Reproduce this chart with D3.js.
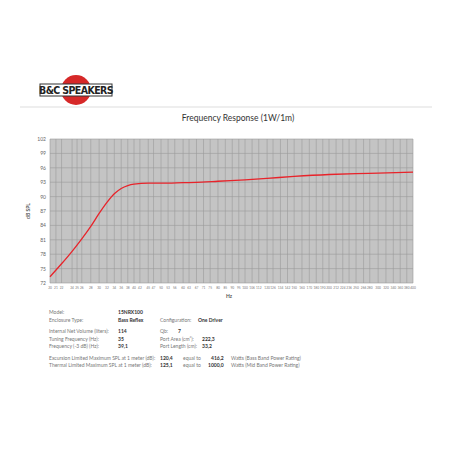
<!DOCTYPE html>
<html><head><meta charset="utf-8">
<script src="https://cdn.jsdelivr.net/npm/d3@7"></script>
<style>body{margin:0;background:#fff}svg{font-family:Lato,sans-serif}</style>
</head><body><svg id="c" width="452" height="452"></svg>
<script>
var xTicks = [20,21,22,24,25,26,28,30,32,34,36,38,40,42,45,47,50,53,56,60,63,67,71,75,80,85,90,95,100,106,112,120,126,134,142,150,160,170,180,190,200,212,224,236,250,266,280,300,320,340,360,380,400];
var yTicks = [72,75,78,81,84,87,90,93,96,99,102];
var freq = [20,22,24,26,28,30,32,34,36,38,40,45,50,60,70,80,100,120,150,200,250,300,400];
var spl  = [73.3,76,78.6,81.2,83.8,86.5,88.8,90.6,91.7,92.3,92.6,92.8,92.8,92.9,93.0,93.2,93.5,93.8,94.2,94.6,94.8,94.9,95.1];
var specs = [
  [["Model:",49],["15NRX100",118]],
  [["Enclosure Type:",49],["Bass Reflex",118],["Configuration:",160],["One Driver",198]],
  null,
  [["Internal  Net Volume (liters):",49],["114",118],["Qb:",160],["7",178]],
  [["Tuning Frequency (Hz):",49],["35",118],["Port Area (cm²):",160],["222,3",202]],
  [["Frequency (-3 dB) (Hz):",49],["39,1",118],["Port Length (cm):",160],["33,2",202]],
  null,
  [["Excursion Limited Maximum SPL at 1 meter (dB):",49],["120,4",160],["equal to",183],["416,2",211],["Watts (Bass Band Power Rating)",231]],
  [["Thermal Limited Maximum SPL at 1 meter (dB):",49],["125,1",160],["equal to",183],["1000,0",208],["Watts (Mid Band Power Rating)",231]]
];
var boldCols = {"15NRX100":1,"Bass Reflex":1,"One Driver":1,"114":1,"35":1,"39,1":1,"7":1,"222,3":1,"33,2":1,"120,4":1,"125,1":1,"416,2":1,"1000,0":1};

var svg = d3.select('#c');
var x = d3.scaleLog().domain([20,400]).range([50,413]);
var y = d3.scaleLinear().domain([72,102]).range([283,139]);

// logo
var logo = svg.append('g');
logo.append('circle').attr('cx',76).attr('cy',90).attr('r',15).attr('fill','#d62828');
logo.append('rect').attr('x',40).attr('y',84).attr('width',72).attr('height',12).attr('fill','#fff').attr('stroke','#333');
logo.append('text').attr('x',76).attr('y',94).attr('text-anchor','middle').attr('font-size',10.5).attr('font-weight','bold')
  .attr('font-family','"DejaVu Sans Condensed",sans-serif').attr('letter-spacing',-0.6).attr('fill','#222').text('B&C SPEAKERS');
svg.append('line').attr('x1',20).attr('x2',432).attr('y1',107).attr('y2',107).attr('stroke','#ddd');

svg.append('text').attr('x',238).attr('y',121).attr('text-anchor','middle').attr('font-size',8.5).attr('fill','#333')
  .text('Frequency Response (1W/1m)');

svg.append('rect').attr('x',50).attr('y',139).attr('width',363).attr('height',144).attr('fill','#c4c4c4');
svg.selectAll('.vg').data(xTicks).enter().append('line')
  .attr('x1',d=>x(d)).attr('x2',d=>x(d)).attr('y1',139).attr('y2',283).attr('stroke','#9a9a9a').attr('stroke-width',0.6);
svg.selectAll('.hg').data(yTicks).enter().append('line')
  .attr('x1',50).attr('x2',413).attr('y1',d=>y(d)).attr('y2',d=>y(d)).attr('stroke','#9a9a9a').attr('stroke-width',0.6);

svg.selectAll('.yl').data(yTicks).enter().append('text')
  .attr('x',46).attr('y',d=>y(d)+2).attr('text-anchor','end').attr('font-size',5).attr('fill','#666').text(d=>d);
svg.selectAll('.xl').data(xTicks).enter().append('text')
  .attr('x',d=>x(d)).attr('y',289).attr('text-anchor','middle').attr('font-size',3.2).attr('fill','#777').text(d=>d);
svg.append('text').attr('x',226).attr('y',298).attr('font-size',5).attr('font-weight','bold').attr('fill','#555').text('Hz');
svg.append('text').attr('transform','translate(30,211) rotate(-90)').attr('text-anchor','middle').attr('font-size',5).attr('font-weight','bold').attr('fill','#555').text('dB SPL');

svg.append('path').datum(d3.zip(freq,spl)).attr('fill','none').attr('stroke','#e8232a').attr('stroke-width',1.3)
  .attr('d',d3.line().x(d=>x(d[0])).y(d=>y(d[1])).curve(d3.curveMonotoneX));

var ly = 314;
specs.forEach(function(row){
  if(row){
    row.forEach(function(c){
      svg.append('text').attr('x',c[1]).attr('y',ly).attr('font-size',5)
        .attr('font-weight',boldCols[c[0]]?'bold':'normal').attr('fill',boldCols[c[0]]?'#333':'#777').text(c[0]);
    });
  }
  ly += row ? 7.5 : 4;
});
</script></body></html>
